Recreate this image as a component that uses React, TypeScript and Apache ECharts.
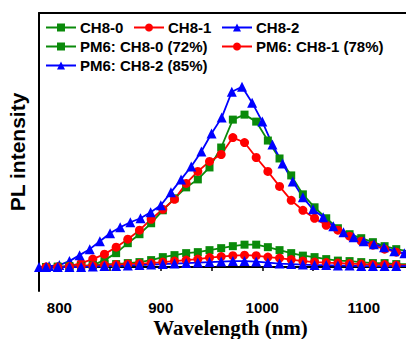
import React, { useEffect, useRef } from "react";
import * as echarts from "echarts";

// Wavelength grids (nm)
const wlBlue = [780, 790, 800, 810, 820, 830, 840, 850, 860, 870, 880, 890, 900, 910, 920, 930, 940, 950, 960, 970, 980, 990, 1000, 1010, 1020, 1030, 1040, 1050, 1060, 1070, 1080, 1090, 1100, 1110, 1120, 1130, 1140];
const wlRG = [775.5, 787, 798.5, 810, 821.5, 833, 844.5, 856, 867.5, 879, 890.5, 902, 913.5, 925, 936.5, 948, 959.5, 971, 982.5, 994, 1005.5, 1017, 1028.5, 1040, 1051.5, 1063, 1074.5, 1086, 1097.5, 1109, 1120.5, 1132, 1143.5];

// PL intensity (a.u.)
const ch80 = [0, 0, 0, 0, 1, 2, 7, 14, 24, 33, 44, 57, 69, 80, 88, 100, 120, 148, 153, 146, 127, 109, 92, 73, 60, 49, 39, 33, 29, 25, 21, 18, 16];
const ch81 = [0, 0, 0, 1, 4, 8, 13, 20, 28, 37, 48, 58, 68, 84, 96, 106, 113, 130, 125, 110, 96, 81, 67, 57, 49, 42, 37, 31, 26, 22, 18, 15, 13];
const ch82 = [0, 1, 2, 6, 12, 18, 26, 34, 40, 45, 49, 55, 62, 75, 88, 101, 116, 134, 150, 176, 181, 165, 146, 123, 104, 86, 70, 58, 50, 41, 35, 30, 26, 23, 20, 16, 14];
const pm80 = [0, 0, 0.5, 1, 1, 2, 3, 3, 4, 5, 7, 10, 12, 14, 15, 17, 19, 21, 22.5, 22.5, 20, 17, 14, 11.5, 10, 8, 6.5, 6, 5, 4, 4, 3, 3];
const pm81 = [0, 0, 0, 0.5, 1, 1.5, 2, 2.5, 3, 3.5, 4, 5, 6, 7, 8, 9.5, 10.5, 11.5, 12, 11.5, 10, 9, 7.5, 6, 5, 4.5, 4, 3.5, 3, 2.5, 2.5, 2, 2];
const pm82 = [0, 0, 0, 0, 0, 0.5, 1, 1, 1.5, 2, 2.5, 3, 3.5, 4, 4.5, 5, 5.5, 6, 6, 5.5, 4.5, 3.5, 3, 2.5, 2, 2, 1.5, 1.5, 1, 1, 1, 1, 1];

const names = ["CH8-0", "CH8-1", "CH8-2", "PM6: CH8-0 (72%)", "PM6: CH8-1 (78%)", "PM6: CH8-2 (85%)"];
const xLabelValues = [800, 900, 1000, 1100];
const xTickValues = [800, 850, 900, 950, 1000, 1050, 1100];

const GREEN = "#0a8a0a";
const RED = "#ff0000";
const BLUE = "#0000ff";

const zip = (xs: number[], ys: number[]) => xs.map((x, i) => [x, ys[i]]);

const SANS = "Arial, 'Liberation Sans', sans-serif";
const SERIF = "'Times New Roman', 'Liberation Serif', serif";

export default function App() {
  const ref = useRef<HTMLDivElement>(null);
  useEffect(() => {
    if (!ref.current) return;
    const chart = echarts.init(ref.current, undefined, { renderer: "svg" });
    const mk = (name: string, xs: number[], ys: number[], color: string, symbol: string, size: number) => ({
      name,
      type: "line",
      data: zip(xs, ys),
      symbol,
      symbolSize: size,
      showSymbol: true,
      showAllSymbol: true,
      clip: true,
      lineStyle: { color, width: 1.8 },
      itemStyle: { color },
      emphasis: { disabled: true },
    });
    const legendCommon = {
      itemWidth: 30,
      itemHeight: 10,
      itemGap: 0,
      padding: 0,
      selectedMode: false,
      textStyle: { fontSize: 15, fontWeight: "bold", color: "#000", fontFamily: SANS, padding: [0, 0, 0, -1] },
    };
    const legPos = [
      [45, 20],
      [133, 20],
      [221, 20],
      [45, 39],
      [221, 39],
      [45, 58],
    ];
    chart.setOption({
      animation: false,
      backgroundColor: "#fff",
      grid: { left: 39, top: 13, right: 0, bottom: 48, containLabel: false, outerBoundsMode: "none" },
      legend: names.map((n, i) => ({ ...legendCommon, data: [n], left: legPos[i][0], top: legPos[i][1] })),
      xAxis: [
        {
          type: "value",
          min: 780,
          max: 1141.6,
          name: "Wavelength (nm)",
          nameLocation: "middle",
          nameGap: 26,
          nameMoveOverlap: false,
          nameTextStyle: {
            fontFamily: SERIF,
            fontWeight: "bold",
            fontSize: 21,
            lineHeight: 21,
            color: "#000",
            padding: [0, 0, 0, 16],
          },
          axisLine: { lineStyle: { color: "#000", width: 2 } },
          axisTick: { show: true, customValues: xTickValues, length: 4, inside: false, lineStyle: { color: "#000", width: 1.5 } },
          axisLabel: {
            customValues: xLabelValues,
            formatter: (v: number) => String(v),
            margin: 9,
            fontFamily: SANS,
            fontWeight: "bold",
            fontSize: 15,
            color: "#000",
          },
          splitLine: { show: false },
        },
        {
          type: "value",
          position: "top",
          min: 780,
          max: 1141.6,
          axisLine: { show: true, lineStyle: { color: "#000", width: 2 } },
          axisTick: { show: false },
          axisLabel: { show: false },
          splitLine: { show: false },
        },
      ],
      yAxis: {
        type: "value",
        min: -24,
        max: 255,
        name: "PL intensity",
        nameLocation: "middle",
        nameGap: 11,
        nameMoveOverlap: false,
        nameTextStyle: { fontFamily: SANS, fontWeight: "bold", fontSize: 21, color: "#000" },
        axisLine: { show: true, lineStyle: { color: "#000", width: 2 } },
        axisTick: { show: false },
        axisLabel: { show: false },
        splitLine: { show: false },
      },
      series: [
        mk(names[0], wlRG, ch80, GREEN, "rect", 8),
        mk(names[1], wlRG, ch81, RED, "circle", 9),
        mk(names[2], wlBlue, ch82, BLUE, "triangle", 10),
        mk(names[3], wlRG, pm80, GREEN, "rect", 8),
        mk(names[4], wlRG, pm81, RED, "circle", 9),
        mk(names[5], wlRG, pm82, BLUE, "triangle", 10),
      ],
    });
    return () => chart.dispose();
  }, []);
  return <div ref={ref} style={{ position: "fixed", left: 0, top: 0, width: 406, height: 339 }} />;
}
